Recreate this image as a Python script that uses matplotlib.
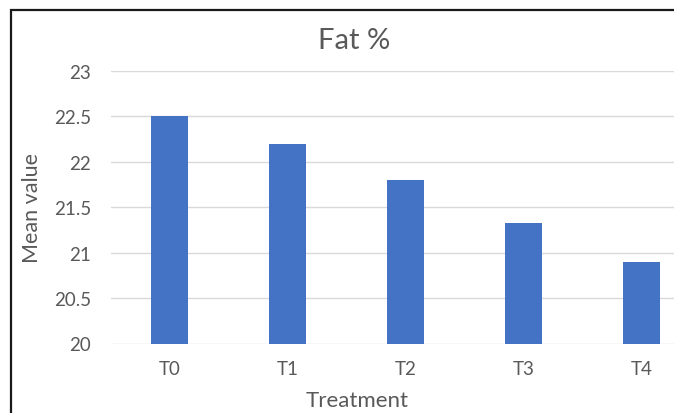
import numpy as np
import matplotlib
matplotlib.use("Agg")
import matplotlib.pyplot as plt
from matplotlib.patches import Rectangle

treatments = ["T0", "T1", "T2", "T3", "T4"]
fat_mean = [22.5, 22.2, 21.8, 21.33, 20.9]
y_ticks = [20, 20.5, 21, 21.5, 22, 22.5, 23]
y_tick_labels = ["20", "20.5", "21", "21.5", "22", "22.5", "23"]

plt.rcParams['font.family'] = ['Lato', 'DejaVu Sans']
grey = '#595959'

W, H = 674, 414
fig = plt.figure(figsize=(W / 100, H / 100), dpi=100)

# plot area runs past the right edge of the figure
left, right = 110.7, 700.7
top, bottom = 72, 344.5
ax = fig.add_axes([left / W, 1 - bottom / H, (right - left) / W, (bottom - top) / H])

x = np.arange(len(treatments))
ax.bar(x, fat_mean, width=0.31, color='#4472C4', zorder=3)

ax.set_xlim(-0.5, len(treatments) - 0.5)
ax.set_ylim(20, 23)
ax.set_yticks(y_ticks)
ax.set_yticklabels(y_tick_labels)
ax.set_xticks(x)
ax.set_xticklabels(treatments)
ax.yaxis.grid(True, color='#d9d9d9', linewidth=1.0, zorder=0)
ax.tick_params(axis='both', length=0, colors=grey, labelsize=13.5)
ax.tick_params(axis='y', pad=14)
ax.tick_params(axis='x', pad=12)
for s in ax.spines.values():
    s.set_visible(False)

fig.text(354 / W, 1 - 41 / H, "Fat %", ha='center', va='center', fontsize=21, color=grey)
fig.text(357 / W, 1 - 401 / H, "Treatment", ha='center', va='center', fontsize=16, color=grey)
fig.text(32 / W, 1 - 208 / H, "Mean value", ha='center', va='center', rotation=90,
         fontsize=15.5, color=grey)

# chart border (only left and top edges fall inside the image)
fig.patches.append(Rectangle((11 / W, -0.1), 1.2, 1 - 11 / H + 0.1, transform=fig.transFigure,
                             fill=False, edgecolor='#1a1a1a', linewidth=1.6))

fig.savefig("out.png", dpi=100)
